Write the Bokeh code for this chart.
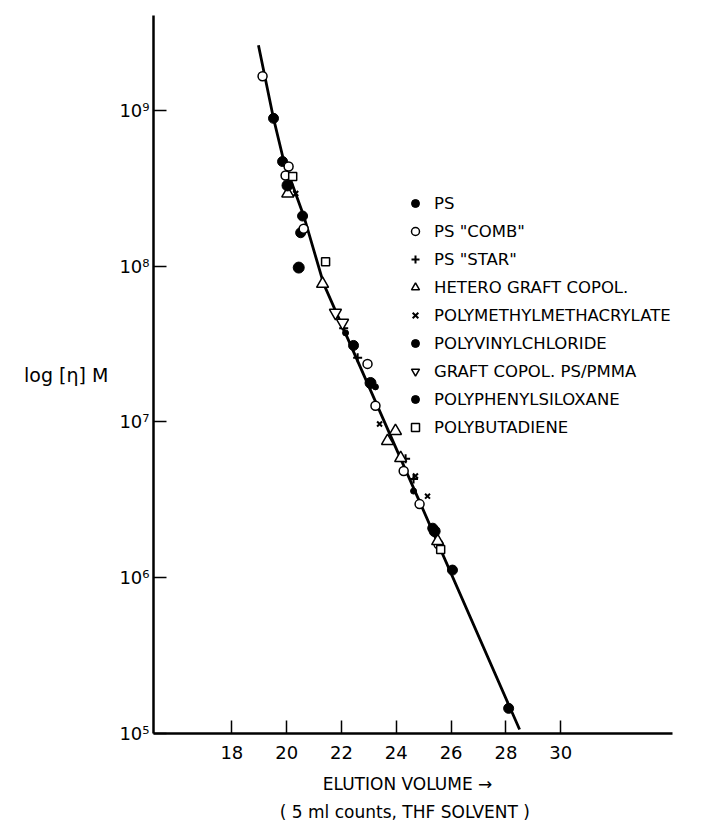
from bokeh.plotting import figure
from bokeh.models import FixedTicker, Legend, LegendItem, Title, Range1d
from bokeh.embed import file_html
from bokeh.resources import INLINE

# ---------------- data ----------------
curve_x = [18.97, 19.52, 19.89, 20.62, 21.35, 24.89, 28.50]
curve_y = [2.62e9, 8.89e8, 4.77e8, 2.11e8, 7.7e7, 2.97e6, 1.06e5]

ps_x = [19.52, 19.85, 20.58, 20.51, 22.44, 25.33, 26.05, 28.10]
ps_y = [8.9e8, 4.7e8, 2.1e8, 1.64e8, 3.1e7, 2.08e6, 1.12e6, 1.45e5]

comb_x = [19.12, 20.07, 19.96, 20.62, 22.95, 23.24, 24.27, 24.85, 25.54]
comb_y = [1.66e9, 4.37e8, 3.82e8, 1.74e8, 2.36e7, 1.27e7, 4.84e6, 2.97e6, 1.64e6]

star_x = [22.08, 22.59, 24.34, 24.63]
star_y = [4.0e7, 2.58e7, 5.8e6, 4.3e6]

hetero_x = [20.04, 21.31, 23.97, 23.68, 24.16, 25.51]
hetero_y = [2.93e8, 7.7e7, 8.75e6, 7.55e6, 5.86e6, 1.72e6]

pmma_x = [20.33, 23.39, 24.70, 25.14]
pmma_y = [2.93e8, 9.7e6, 4.5e6, 3.34e6]

pvc_x = [22.15, 23.24, 24.63]
pvc_y = [3.73e7, 1.68e7, 3.6e6]

graft_x = [21.78, 22.04]
graft_y = [5.02e7, 4.33e7]

pps_x = [20.03, 20.44, 23.06, 25.40]
pps_y = [3.3e8, 9.8e7, 1.78e7, 1.99e6]

pbd_x = [20.22, 21.42, 25.62]
pbd_y = [3.77e8, 1.07e8, 1.52e6]

x_ticks = [18, 20, 22, 24, 26, 28, 30]
y_ticks = [1e5, 1e6, 1e7, 1e8, 1e9]
y_tick_labels = ["10⁵", "10⁶", "10⁷", "10⁸", "10⁹"]

labels = ['PS', 'PS "COMB"', 'PS "STAR"', 'HETERO GRAFT COPOL.',
          'POLYMETHYLMETHACRYLATE', 'POLYVINYLCHLORIDE',
          'GRAFT COPOL. PS/PMMA', 'POLYPHENYLSILOXANE', 'POLYBUTADIENE']

FONT = "DejaVu Sans"

p = figure(frame_width=519, frame_height=718, y_axis_type="log",
           x_range=Range1d(15.14, 34.08), y_range=Range1d(1e5, 4.07e9),
           output_backend="svg", toolbar_location=None,
           min_border_left=153, min_border_right=15, min_border_top=15,
           min_border_bottom=0)
p.outline_line_color = None
p.xgrid.visible = False
p.ygrid.visible = False
p.background_fill_color = "white"

# axes
for ax in (p.xaxis[0], p.yaxis[0]):
    ax.axis_line_width = 2.5
    ax.axis_line_color = "black"
    ax.major_tick_line_width = 1.5
    ax.major_tick_line_color = "black"
    ax.major_tick_in = 13
    ax.major_tick_out = 0
    ax.minor_tick_line_color = None
    ax.major_label_text_font = FONT
    ax.major_label_text_font_size = "18px"
    ax.major_label_text_color = "black"
    ax.axis_label_text_font = FONT
    ax.axis_label_text_font_style = "normal"
    ax.axis_label_text_color = "black"

p.xaxis.ticker = FixedTicker(ticks=x_ticks)
p.xaxis.major_label_standoff = 12
p.xaxis.axis_label = "ELUTION  VOLUME  →"
p.xaxis.axis_label_text_font_size = "17px"
p.xaxis.axis_label_standoff = 12

p.yaxis.ticker = FixedTicker(ticks=y_ticks)
p.yaxis.major_label_overrides = {float(t): l for t, l in zip(y_ticks, y_tick_labels)}
p.yaxis.major_label_standoff = 4
p.yaxis.axis_label = "log [η] M"
p.yaxis.axis_label_orientation = "horizontal"
p.yaxis.axis_label_text_font_size = "19px"
p.yaxis.axis_label_standoff = 8

p.add_layout(Title(text="( 5 ml  counts,  THF  SOLVENT )", align="center",
                   text_font=FONT, text_font_size="17px", standoff=6,
                   text_font_style="normal", text_color="black"), "below")

# calibration curve
p.line(curve_x, curve_y, line_width=2.8, line_color="black")

r_ps = p.scatter(ps_x, ps_y, marker="circle", size=10, fill_color="black", line_color="black")
r_comb = p.scatter(comb_x, comb_y, marker="circle", size=9, fill_color="white",
                   line_color="black", line_width=1.5)
r_star = p.scatter(star_x, star_y, marker="cross", size=9, line_color="black", line_width=2)
r_het = p.scatter(hetero_x, hetero_y, marker="triangle", size=12, fill_color="white",
                  line_color="black", line_width=1.5)
r_pmma = p.scatter(pmma_x, pmma_y, marker="x", size=7, line_color="black", line_width=2)
r_pvc = p.scatter(pvc_x, pvc_y, marker="circle", size=6, fill_color="black", line_color="black")
r_graft = p.scatter(graft_x, graft_y, marker="inverted_triangle", size=12, fill_color="white",
                    line_color="black", line_width=1.5)
r_pps = p.scatter(pps_x, pps_y, marker="circle", size=11, fill_color="black", line_color="black")
r_pbd = p.scatter(pbd_x, pbd_y, marker="square", size=8, fill_color="white",
                  line_color="black", line_width=1.5)

renderers = [r_ps, r_comb, r_star, r_het, r_pmma, r_pvc, r_graft, r_pps, r_pbd]
legend = Legend(items=[LegendItem(label=l, renderers=[r]) for l, r in zip(labels, renderers)],
                location=(252, 295), background_fill_alpha=0, border_line_color=None,
                padding=0, margin=0, spacing=6, glyph_height=22, glyph_width=20,
                label_height=22, label_standoff=9, label_text_font=FONT,
                label_text_font_size="16.5px", label_text_color="black")
p.add_layout(legend)

open("out.html", "w").write(file_html(p, INLINE))
